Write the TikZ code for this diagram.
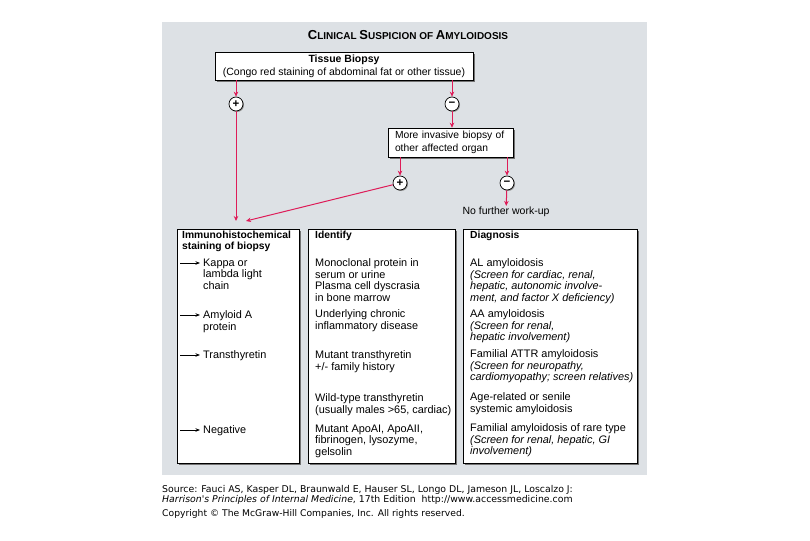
\documentclass[tikz,border=0pt]{standalone}
\usepackage{fontspec}
\setmainfont{Liberation Sans}
\newfontfamily\srcfont{DejaVu Sans}
\usepackage{tikz}
\usetikzlibrary{arrows.meta,shadows,calc}
\usepackage{xcolor}
\definecolor{panelgray}{RGB}{221,225,229}
\definecolor{flowred}{RGB}{222,28,88}
\newcommand{\capsc}[2]{{\fontsize{13}{14}\selectfont #1}{\fontsize{10}{14}\selectfont #2}}

\begin{document}
\begin{tikzpicture}[x=1pt,y=-1pt,
  box/.style={rectangle,draw=black,fill=white,line width=0.6pt,inner sep=0pt,
              drop shadow={shadow xshift=1.6pt,shadow yshift=-1.6pt,fill=black!55,opacity=1}},
  sign/.style={circle,draw=black,fill=white,line width=0.7pt,inner sep=0pt,minimum size=14pt,
               font=\bfseries\fontsize{11.5}{11.5}\selectfont,
               drop shadow={shadow xshift=1pt,shadow yshift=-1pt,fill=black!45,opacity=1}},
  txt/.style={anchor=north west,align=left,inner sep=0pt,font=\fontsize{10.9}{11.6}\selectfont},
  head/.style={txt,font=\bfseries\fontsize{10.3}{10.8}\selectfont},
  redarr/.style={-{Stealth[length=5pt,width=4.5pt]},flowred,line width=1pt},
  tick/.style={-{Stealth[length=4.5pt,width=3.5pt]},black,line width=0.8pt}
]
\useasboundingbox (0,0) rectangle (810,540);
\fill[panelgray] (162,22) rectangle (647,475);
\node (title) at (408,35) {\bfseries\capsc{C}{LINICAL} \capsc{S}{USPICION} \capsc{}{OF} \capsc{A}{MYLOIDOSIS}};
% top of the flow
\node[box,minimum width=258pt,minimum height=28pt,align=center,
      font=\fontsize{10.5}{13}\selectfont] (tissue) at (344,66)
  {\textbf{Tissue Biopsy}\\(Congo red staining of abdominal fat or other tissue)};
\node[sign] (plus1) at (236,104) {+};
\node[sign] (minus1) at (452,104) {−};
\node[box,minimum height=29pt,text width=111pt,inner xsep=7pt,align=left,
      font=\fontsize{10.3}{13}\selectfont] (invasive) at (450.5,142.5)
  {More invasive biopsy of\\other affected organ};
\node[sign] (plus2) at (400,183) {+};
\node[sign] (minus2) at (507,183) {−};
\node[font=\fontsize{10.5}{12}\selectfont,inner sep=1pt] (nofurther) at (506,212) {No further work-up};
\coordinate (meet) at (246,221);
\draw[redarr] (tissue.south -| plus1) -- (plus1);
\draw[redarr] (tissue.south -| minus1) -- (minus1);
\draw[redarr] (minus1) -- (invasive.north -| minus1);
\draw[redarr] (invasive.south -| plus2) -- (plus2);
\draw[redarr] (invasive.south -| minus2) -- (minus2);
\draw[redarr] (minus2) -- (nofurther);
\draw[redarr] (plus1) -- (plus1 |- meet);
\draw[redarr] (plus2) -- (meet);
% the three columns
\node[box,minimum width=122pt,minimum height=234pt] (immuno) at (238,346) {};
\node[box,minimum width=147pt,minimum height=234pt] (identify) at (381.5,346) {};
\node[box,minimum width=174pt,minimum height=234pt] (diagnosis) at (550,346) {};
\node[head] (immhead) at (182,231) {Immunohistochemical\\staining of biopsy};
\node[head] (idhead) at (315,231) {Identify};
\node[head] (diaghead) at (470,231) {Diagnosis};
% staining results
\node[txt] (kappa) at (203,258.5) {Kappa or\\lambda light\\chain};
\node[txt] (amyloida) at (203,310.5) {Amyloid A\\protein};
\node[txt] (ttr) at (203,350.5) {Transthyretin};
\node[txt] (negative) at (203,425.5) {Negative};
\coordinate (t1) at (180,263);
\coordinate (t2) at (180,315);
\coordinate (t3) at (180,355);
\coordinate (t4) at (180,430);
\draw[tick,shorten >=3pt] (t1) -- (t1 -| kappa.west);
\draw[tick,shorten >=3pt] (t2) -- (t2 -| amyloida.west);
\draw[tick,shorten >=3pt] (t3) -- (t3 -| ttr.west);
\draw[tick,shorten >=3pt] (t4) -- (t4 -| negative.west);
% identify
\node[txt] (mono) at (315,258.5) {Monoclonal protein in\\serum or urine\\Plasma cell dyscrasia\\in bone marrow};
\node[txt] (chronic) at (315,309.5) {Underlying chronic\\inflammatory disease};
\node[txt] (mutant) at (315,350.5) {Mutant transthyretin\\+/- family history};
\node[txt] (wild) at (315,393.5) {Wild-type transthyretin\\(usually males >65, cardiac)};
\node[txt] (apo) at (315,424.5) {Mutant ApoAI, ApoAII,\\fibrinogen, lysozyme,\\gelsolin};
% diagnosis
\node[txt] (al) at (470,258.5) {AL amyloidosis\\\textit{(Screen for cardiac, renal,}\\\textit{hepatic, autonomic involve-}\\\textit{ment, and factor X deficiency)}};
\node[txt] (aa) at (470,309.5) {AA amyloidosis\\\textit{(Screen for renal,}\\\textit{hepatic involvement)}};
\node[txt] (attr) at (470,349.5) {Familial ATTR amyloidosis\\\textit{(Screen for neuropathy,}\\\textit{cardiomyopathy; screen relatives)}};
\node[txt] (senile) at (470,392.5) {Age-related or senile\\systemic amyloidosis};
\node[txt] (rare) at (470,423.5) {Familial amyloidosis of rare type\\\textit{(Screen for renal, hepatic, GI}\\\textit{involvement)}};
% source lines
\node[anchor=north west,align=left,inner sep=0pt,font=\srcfont\fontsize{9.35}{10.2}\selectfont] (source) at (162,485)
  {Source: Fauci AS, Kasper DL, Braunwald E, Hauser SL, Longo DL, Jameson JL, Loscalzo J:\\
   \textit{Harrison's Principles of Internal Medicine}, 17th Edition\ \ http://www.accessmedicine.com};
\node[anchor=base west,inner sep=0pt,font=\srcfont\fontsize{9.2}{10}\selectfont] (copyright) at (162,516)
  {Copyright © The McGraw-Hill Companies, Inc. All rights reserved.};
\end{tikzpicture}
\end{document}
